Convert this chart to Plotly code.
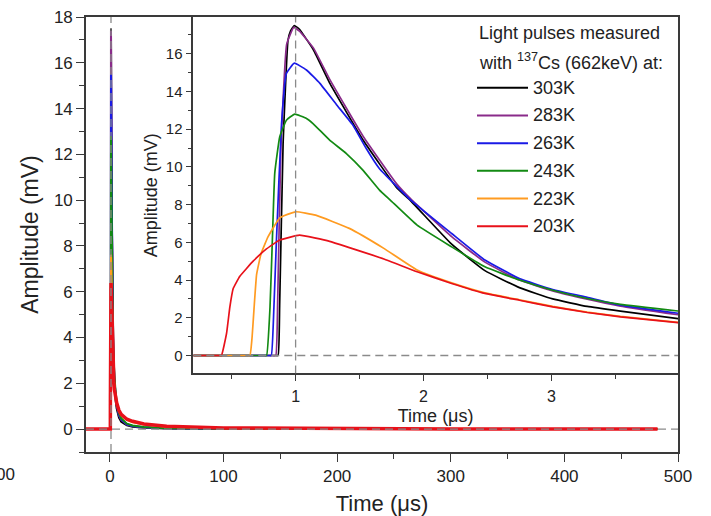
import plotly.graph_objects as go

# ---------------- data ----------------
TEMPS = ["303K", "283K", "263K", "243K", "223K", "203K"]
COLORS = ["#000000", "#8a2b8a", "#1a1ae6", "#138a13", "#ff9b21", "#e8111a"]

# Leading edge and first microseconds of each light pulse (time in µs, amplitude in mV)
T_303 = [0.2, 0.84, 0.863, 0.875, 0.902, 0.94, 0.96, 0.99, 1.03, 1.14, 1.27, 1.53, 1.79, 1.90, 2.22, 2.48, 2.75, 3.01, 3.28, 3.54, 4.0]
A_303 = [0.0, 0.0, 0.0, 2.6, 11.2, 16.7, 17.2, 17.5, 17.3, 16.2, 14.4, 11.4, 8.9, 8.2, 5.9, 4.5, 3.6, 3.0, 2.6, 2.35, 1.95]

T_283 = [0.2, 0.82, 0.845, 0.86, 0.885, 0.93, 0.985, 1.03, 1.14, 1.27, 1.53, 1.79, 1.90, 2.22, 2.48, 2.75, 3.01, 3.28, 3.54, 4.0]
A_283 = [0.0, 0.0, 0.0, 3.0, 11.0, 16.5, 17.4, 17.2, 16.3, 14.6, 11.6, 9.1, 8.3, 6.3, 4.95, 4.0, 3.42, 2.98, 2.62, 2.15]

T_263 = [0.2, 0.79, 0.81, 0.83, 0.85, 0.89, 0.928, 0.99, 1.085, 1.19, 1.32, 1.45, 1.55, 1.656, 1.90, 2.22, 2.48, 2.75, 3.01, 3.28, 3.54, 4.0]
A_263 = [0.0, 0.0, 0.0, 2.5, 6.1, 12.3, 14.96, 15.5, 15.14, 14.43, 13.3, 12.2, 11.0, 9.9, 8.24, 6.47, 5.06, 4.08, 3.5, 3.08, 2.67, 2.23]

T_243 = [0.2, 0.75, 0.773, 0.80, 0.82, 0.837, 0.876, 0.928, 0.993, 1.085, 1.136, 1.266, 1.397, 1.526, 1.656, 1.74, 1.95, 2.22, 2.48, 2.75, 3.01, 3.28, 3.54, 4.0]
A_243 = [0.0, 0.0, 0.0, 2.58, 6.5, 9.67, 11.6, 12.48, 12.8, 12.57, 12.3, 11.42, 10.71, 9.83, 8.77, 8.24, 6.91, 5.76, 4.70, 4.0, 3.46, 3.02, 2.71, 2.35]

T_223 = [0.2, 0.62, 0.643, 0.66, 0.675, 0.695, 0.73, 0.785, 0.876, 1.0, 1.157, 1.42, 1.69, 1.95, 2.22, 2.48, 2.75, 3.01, 3.28, 3.54, 4.0]
A_223 = [0.0, 0.0, 0.0, 1.0, 2.5, 4.3, 5.4, 6.3, 7.3, 7.62, 7.44, 6.74, 5.68, 4.53, 3.85, 3.32, 2.95, 2.6, 2.3, 2.07, 1.75]

T_203 = [0.2, 0.40, 0.42, 0.46, 0.486, 0.512, 0.564, 0.668, 0.772, 0.876, 1.03, 1.266, 1.42, 1.69, 1.95, 2.22, 2.48, 2.75, 3.01, 3.28, 3.54, 4.0]
A_203 = [0.0, 0.0, 0.0, 1.17, 2.58, 3.55, 4.2, 5.0, 5.65, 6.12, 6.38, 6.05, 5.72, 5.12, 4.44, 3.82, 3.29, 2.93, 2.58, 2.28, 2.05, 1.73]

# Long tail of each pulse over the full record (time in µs, amplitude in mV)
TAIL_T = [5, 6, 8, 10, 15, 20, 30, 50, 100, 200, 300, 400, 482]
TAIL_303 = [1.3, 0.9, 0.5, 0.32, 0.16, 0.10, 0.06, 0.03, 0.01, 0.0, 0.0, 0.0, 0.0]
TAIL_283 = [1.5, 1.05, 0.6, 0.40, 0.20, 0.13, 0.07, 0.04, 0.01, 0.0, 0.0, 0.0, 0.0]
TAIL_263 = [1.55, 1.1, 0.62, 0.42, 0.21, 0.14, 0.08, 0.04, 0.01, 0.0, 0.0, 0.0, 0.0]
TAIL_243 = [1.65, 1.2, 0.7, 0.47, 0.24, 0.16, 0.09, 0.04, 0.02, 0.0, 0.0, 0.0, 0.0]
TAIL_223 = [1.35, 1.1, 0.78, 0.60, 0.40, 0.30, 0.20, 0.10, 0.04, 0.02, 0.01, 0.0, 0.0]
TAIL_203 = [1.4, 1.15, 0.82, 0.64, 0.43, 0.34, 0.22, 0.12, 0.05, 0.02, 0.01, 0.01, 0.0]

RECORD_START = -21  # pre-trigger baseline start (µs)

PULSE_T = [T_303, T_283, T_263, T_243, T_223, T_203]
PULSE_A = [A_303, A_283, A_263, A_243, A_223, A_203]
TAILS = [TAIL_303, TAIL_283, TAIL_263, TAIL_243, TAIL_223, TAIL_203]

LEGEND_TITLE_1 = "Light pulses measured"
LEGEND_TITLE_2 = "with <sup>137</sup>Cs (662keV) at:"

# ---------------- geometry (pixels) ----------------
W, H = 711, 516
L, R, T, B = 86, 678, 16.5, 452
INSET_L, INSET_B = 193.3, 373.3


def px(x):
    return (x - L) / (R - L)


def py(y):
    return (B - y) / (B - T)


FONT = "Liberation Sans, Arial, sans-serif"
TXT = "#222222"
AX = "#3a3a3a"
DASH_COL = "#8a8a8a"

fig = go.Figure()

# full-record traces (main axes)
for name, col, tt, aa, tail in zip(TEMPS, COLORS, PULSE_T, PULSE_A, TAILS):
    fig.add_trace(go.Scatter(
        x=[RECORD_START] + tt + TAIL_T,
        y=[0.0] + aa + tail,
        mode="lines", name=name, showlegend=False,
        line=dict(color=col, width=3.5 if name == "203K" else 2),
        xaxis="x", yaxis="y",
    ))

# zoomed traces (inset axes)
for name, col, tt, aa in zip(TEMPS, COLORS, PULSE_T, PULSE_A):
    fig.add_trace(go.Scatter(
        x=tt, y=aa, mode="lines", name=name, showlegend=False,
        line=dict(color=col, width=1.7, shape="spline", smoothing=0.35),
        xaxis="x2", yaxis="y2",
    ))

dash_line = dict(color=DASH_COL, width=1.3, dash="8px,5px")
shapes = [
    # reference lines on the main axes
    dict(type="line", xref="x", yref="y", x0=1, x1=1, y0=-1, y1=18, line=dash_line, layer="above"),
    dict(type="line", xref="x", yref="y", x0=-21, x1=500, y0=0, y1=0, line=dash_line, layer="above"),
    # reference lines on the inset
    dict(type="line", xref="x2", yref="y2", x0=1, x1=1, y0=-0.95, y1=17.95, line=dash_line, layer="above"),
    dict(type="line", xref="x2", yref="y2", x0=0.2, x1=3.99, y0=0, y1=0, line=dash_line, layer="above"),
]

annotations = [
    dict(text=LEGEND_TITLE_1, xref="paper", yref="paper", x=px(477), y=py(33),
         xanchor="left", yanchor="middle", showarrow=False,
         font=dict(family=FONT, size=18, color=TXT)),
    dict(text=LEGEND_TITLE_2, xref="paper", yref="paper", x=px(477), y=py(61.5),
         xanchor="left", yanchor="middle", showarrow=False,
         font=dict(family=FONT, size=18, color=TXT)),
    dict(text="00", xref="paper", yref="paper", x=px(16.5), y=py(475),
         xanchor="right", yanchor="middle", showarrow=False,
         font=dict(family=FONT, size=17, color=TXT)),
]

# legend key: sample line + label per temperature
for i, (name, col) in enumerate(zip(TEMPS, COLORS)):
    yk = 87.3 + i * 27.74
    shapes.append(dict(type="line", xref="paper", yref="paper",
                       x0=px(477), x1=px(528), y0=py(yk), y1=py(yk),
                       line=dict(color=col, width=2)))
    annotations.append(dict(text=name, xref="paper", yref="paper",
                            x=px(531), y=py(yk), xanchor="left", yanchor="middle",
                            showarrow=False, font=dict(family=FONT, size=18, color=TXT)))

axis_common = dict(showline=True, linecolor=AX, linewidth=1.6, mirror=True,
                   ticks="outside", tickcolor=AX, tickwidth=1.4,
                   showgrid=False, zeroline=False, automargin=False)

fig.update_layout(
    width=W, height=H, autosize=False,
    margin=dict(l=L, r=W - R, t=T, b=H - B, pad=0, autoexpand=False),
    paper_bgcolor="white", plot_bgcolor="white",
    font=dict(family=FONT, color=TXT),
    showlegend=False,
    xaxis=dict(domain=[0, 1], range=[-21, 500], tick0=0, dtick=100, ticklen=8,
               minor=dict(dtick=50, ticklen=5, ticks="outside", tickcolor=AX, tickwidth=1.4),
               tickfont=dict(size=17, color=TXT),
               title=dict(text="Time (μs)", font=dict(size=22, color=TXT), standoff=12),
               anchor="y", **axis_common),
    yaxis=dict(domain=[0, 1], range=[-1, 18], tick0=0, dtick=2, ticklen=8,
               minor=dict(dtick=1, ticklen=5, ticks="outside", tickcolor=AX, tickwidth=1.4),
               tickfont=dict(size=17, color=TXT),
               title=dict(text="Amplitude (mV)", font=dict(size=23, color=TXT), standoff=9),
               anchor="x", **axis_common),
    xaxis2=dict(domain=[px(INSET_L), 1], range=[0.2, 3.99], tick0=0, dtick=1, ticklen=6,
                ticklabelstandoff=2,
                minor=dict(dtick=0.5, ticklen=4, ticks="outside", tickcolor=AX, tickwidth=1.4),
                tickfont=dict(size=16, color=TXT),
                title=dict(text="Time (μs)", font=dict(size=18, color=TXT), standoff=5),
                anchor="y2", **axis_common),
    yaxis2=dict(domain=[py(INSET_B), 1], range=[-0.95, 17.95], tick0=0, dtick=2, ticklen=6,
                minor=dict(dtick=1, ticklen=4, ticks="outside", tickcolor=AX, tickwidth=1.4),
                tickfont=dict(size=15, color=TXT),
                title=dict(text="Amplitude (mV)", font=dict(size=18, color=TXT), standoff=4),
                anchor="x2", **axis_common),
    shapes=shapes,
    annotations=annotations,
)

fig.write_html("out.html")
